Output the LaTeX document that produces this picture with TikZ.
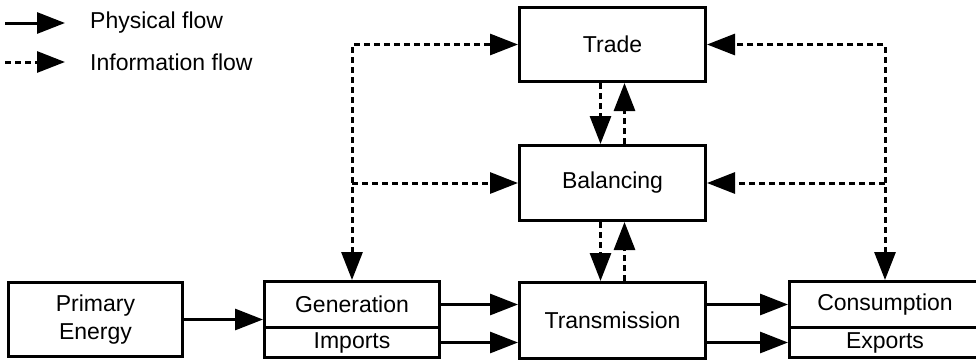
\documentclass[tikz,border=0pt]{standalone}
\usepackage{fontspec}
\setmainfont{Liberation Sans}
\usetikzlibrary{arrows.meta}
\begin{document}
\begin{tikzpicture}[x=1pt,y=-1pt,
  >={Triangle[length=28pt,width=21pt]},
  txt/.style={font=\fontsize{23}{28}\selectfont},
  box/.style={draw, line width=3pt, inner sep=0pt, align=center, txt},
  phys/.style={line width=3pt, ->},
  info/.style={phys, dash pattern=on 6pt off 4pt}]
\useasboundingbox (0,0) rectangle (976,362);

% legend
\coordinate (lp0) at (5,23);  \coordinate (lp1) at (65,23);
\coordinate (li0) at (5,62);  \coordinate (li1) at (65,62);
\draw[phys] (lp0) -- (lp1);
\draw[info] (li0) -- (li1);
\node[txt, anchor=west, inner sep=0pt] (lpt) at (90,23) {Physical flow};
\node[txt, anchor=west, inner sep=0pt] (lit) at (90,62) {Information flow};

% market layers
\node[box, minimum width=186pt, minimum height=74pt] (trade) at (612.5,44.5) {Trade};
\node[box, minimum width=186pt, minimum height=75pt] (bal)   at (612.5,183)  {Balancing};
\node[box, minimum width=186pt, minimum height=76pt] (trans) at (612.5,320.5) {Transmission};

% physical chain
\node[box, minimum width=174pt, minimum height=74pt] (prim) at (95.5,319.5) {Primary\\Energy};
\node[box, minimum width=175pt, minimum height=46pt] (gen)  at (352,304.5) {Generation};
\node[box, minimum width=175pt, minimum height=30pt] (imp)  at (352,342.5) {Imports};
\node[box, minimum width=191pt, minimum height=46pt] (cons) at (885,304.5) {Consumption};
\node[box, minimum width=191pt, minimum height=30pt] (exp)  at (885,342.5) {Exports};

% physical flows
\draw[phys] (prim.east) -- (prim.east -| gen.west);
\draw[phys] (gen.east) -- (gen.east -| trans.west);
\draw[phys] (imp.east) -- (imp.east -| trans.west);
\draw[phys] (trans.east |- cons.west) -- (cons.west);
\draw[phys] (trans.east |- exp.west) -- (exp.west);

% information flows
\draw[info, <->] (gen.north) |- (trade.west);
\draw[info] (gen.north |- bal.west) -- (bal.west);
\draw[info, <->] (cons.north) |- (trade.east);
\draw[info] (cons.north |- bal.east) -- (bal.east);

\draw[info] ([xshift=-12pt]trade.south) -- ([xshift=-12pt]bal.north);
\draw[info] ([xshift=12pt]bal.north) -- ([xshift=12pt]trade.south);
\draw[info] ([xshift=-12pt]bal.south) -- ([xshift=-12pt]trans.north);
\draw[info] ([xshift=12pt]trans.north) -- ([xshift=12pt]bal.south);
\end{tikzpicture}
\end{document}
